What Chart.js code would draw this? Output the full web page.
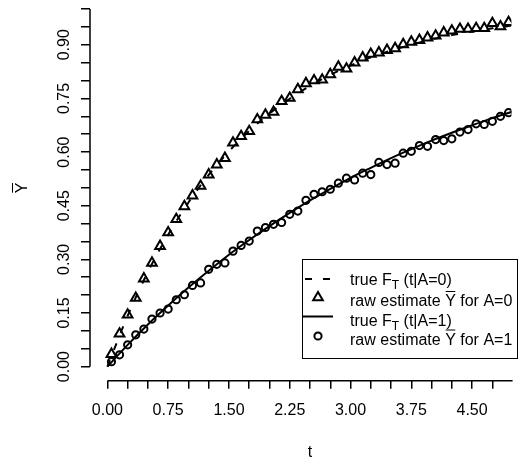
<!DOCTYPE html>
<html>
<head>
<meta charset="utf-8">
<title>Raw estimate vs true F_T</title>
<script src="https://cdn.jsdelivr.net/npm/chart.js@4.4.1/dist/chart.umd.min.js"></script>
<style>
	html, body { margin: 0; padding: 0; background: #fff; overflow: hidden; }
	#chart { display: block; }
</style>
</head>
<body>
<canvas id="chart" width="519" height="462"></canvas>
<script>
// --- data -------------------------------------------------------------------

// true curves, sampled every 0.25
const tTrue  = [0, 0.25, 0.5, 0.75, 1, 1.25, 1.5, 1.75, 2, 2.25, 2.5, 2.75, 3, 3.25, 3.5, 3.75, 4, 4.25, 4.5, 4.75, 5];
const trueA0 = [0, 0.142, 0.265, 0.369, 0.459, 0.536, 0.602, 0.659, 0.708, 0.749, 0.785, 0.816, 0.842, 0.865, 0.884, 0.900, 0.915, 0.927, 0.937, 0.946, 0.954];
const trueA1 = [0, 0.061, 0.118, 0.171, 0.221, 0.268, 0.313, 0.354, 0.393, 0.430, 0.465, 0.497, 0.528, 0.556, 0.583, 0.608, 0.632, 0.654, 0.675, 0.695, 0.713];

// raw estimates at interval midpoints
const tRaw = [0.05, 0.15, 0.25, 0.35, 0.45, 0.55, 0.65, 0.75, 0.85, 0.95,
	1.05, 1.15, 1.25, 1.35, 1.45, 1.55, 1.65, 1.75, 1.85, 1.95,
	2.05, 2.15, 2.25, 2.35, 2.45, 2.55, 2.65, 2.75, 2.85, 2.95,
	3.05, 3.15, 3.25, 3.35, 3.45, 3.55, 3.65, 3.75, 3.85, 3.95,
	4.05, 4.15, 4.25, 4.35, 4.45, 4.55, 4.65, 4.75, 4.85, 4.95];
const rawA0 = [0.035, 0.092, 0.145, 0.192, 0.246, 0.290, 0.337, 0.375, 0.412, 0.448,
	0.478, 0.505, 0.537, 0.565, 0.583, 0.626, 0.644, 0.658, 0.691, 0.704,
	0.712, 0.742, 0.751, 0.775, 0.792, 0.800, 0.802, 0.817, 0.838, 0.833,
	0.850, 0.864, 0.874, 0.878, 0.885, 0.890, 0.901, 0.908, 0.913, 0.920,
	0.925, 0.934, 0.939, 0.944, 0.944, 0.946, 0.946, 0.960, 0.951, 0.963];
const rawA1 = [0.014, 0.033, 0.061, 0.089, 0.105, 0.133, 0.150, 0.161, 0.187, 0.201,
	0.227, 0.234, 0.272, 0.286, 0.290, 0.323, 0.339, 0.351, 0.379, 0.389,
	0.398, 0.403, 0.426, 0.435, 0.465, 0.482, 0.489, 0.496, 0.513, 0.527,
	0.522, 0.541, 0.537, 0.571, 0.565, 0.569, 0.597, 0.602, 0.618, 0.616,
	0.635, 0.632, 0.637, 0.656, 0.663, 0.679, 0.677, 0.686, 0.700, 0.710];

// axis ticks (R drops the labels that would overlap, so only every third is labelled)
const xTicks  = [0, 0.25, 0.5, 0.75, 1, 1.25, 1.5, 1.75, 2, 2.25, 2.5, 2.75, 3, 3.25, 3.5, 3.75, 4, 4.25, 4.5, 4.75];
const xLabels = [0, 0.75, 1.5, 2.25, 3, 3.75, 4.5];
const yTicks  = [0, 0.05, 0.1, 0.15, 0.2, 0.25, 0.3, 0.35, 0.4, 0.45, 0.5, 0.55, 0.6, 0.65, 0.7, 0.75, 0.8, 0.85, 0.9, 0.95, 1];
const yLabels = [0, 0.15, 0.3, 0.45, 0.6, 0.75, 0.9];

const legendRows = [
	{ sym: 'dash',     parts: ['true F', { sub: 'T' }, ' (t|A=0)'] },
	{ sym: 'triangle', parts: ['raw estimate ', { over: 'Y' }, ' for A=0'] },
	{ sym: 'line',     parts: ['true F', { sub: 'T' }, ' (t|A=1)'] },
	{ sym: 'circle',   parts: ['raw estimate ', { over: 'Y' }, ' for A=1'] }
];

// --- helpers ----------------------------------------------------------------

const FONT = '"Liberation Sans", Arial, Helvetica, sans-serif';
const INK  = '#000';
const DASH = [7, 11];

function pts(xs, ys) { return xs.map((x, i) => ({ x: x, y: ys[i] })); }
function setTicks(list) { return scale => { scale.ticks = list.map(v => ({ value: v })); }; }

// draws text made of plain strings, {sub} and {over} pieces, returns end x
function drawRich(ctx, parts, x, base) {
	parts.forEach(p => {
		if (typeof p === 'string') {
			ctx.font = '16px ' + FONT;
			ctx.fillText(p, x, base);
			x += ctx.measureText(p).width;
		} else if (p.sub) {
			ctx.font = '12px ' + FONT;
			ctx.fillText(p.sub, x, base + 4);
			x += ctx.measureText(p.sub).width;
		} else if (p.over) {
			ctx.font = '16px ' + FONT;
			ctx.fillText(p.over, x, base);
			const w = ctx.measureText(p.over).width;
			ctx.beginPath();
			ctx.moveTo(x + 0.5, base - 14.5);
			ctx.lineTo(x + w - 0.5, base - 14.5);
			ctx.stroke();
			x += w;
		}
	});
	return x;
}

// --- R-style axes, labels and legend -----------------------------------------

const rDecor = {
	id: 'rDecor',
	afterDraw(chart) {
		const ctx = chart.ctx;
		const xs = chart.scales.x, ys = chart.scales.y;
		const area = chart.chartArea;
		ctx.save();
		ctx.strokeStyle = INK;
		ctx.fillStyle = INK;

		// axis lines span first to last tick only
		ctx.lineWidth = 1.5;
		ctx.beginPath();
		ctx.moveTo(area.left, ys.getPixelForValue(0));
		ctx.lineTo(area.left, ys.getPixelForValue(1));
		ctx.moveTo(xs.getPixelForValue(0), area.bottom);
		ctx.lineTo(xs.getPixelForValue(5), area.bottom);
		ctx.stroke();

		// y tick labels, rotated like R's las=0
		ctx.font = '16px ' + FONT;
		ctx.textAlign = 'center';
		ctx.textBaseline = 'alphabetic';
		yLabels.forEach(v => {
			ctx.save();
			ctx.translate(area.left - 21, ys.getPixelForValue(v));
			ctx.rotate(-Math.PI / 2);
			ctx.fillText(v.toFixed(2), 0, 0);
			ctx.restore();
		});

		// y title: Y with a bar
		ctx.save();
		ctx.translate(area.left - 63, (ys.getPixelForValue(0) + ys.getPixelForValue(1)) / 2);
		ctx.rotate(-Math.PI / 2);
		ctx.textAlign = 'left';
		ctx.lineWidth = 1;
		const yw = ctx.measureText('Y').width;
		drawRich(ctx, [{ over: 'Y' }], -yw / 2, 0);
		ctx.restore();

		// x title
		ctx.textAlign = 'center';
		ctx.font = '16px ' + FONT;
		ctx.fillText('t', (xs.getPixelForValue(0) + xs.getPixelForValue(5)) / 2, 457);

		// legend
		const box = { left: 302, top: 259, right: 517, bottom: 358 };
		ctx.lineWidth = 1;
		ctx.strokeRect(box.left + 0.5, box.top + 0.5, box.right - box.left, box.bottom - box.top);
		const symX = 318, textX = 350;
		const symY  = [279, 297.5, 316.5, 336];
		const textB = [285, 306, 326, 344.5];
		ctx.textAlign = 'left';
		legendRows.forEach((row, i) => {
			const y = symY[i];
			ctx.lineWidth = 2;
			ctx.setLineDash([]);
			ctx.beginPath();
			if (row.sym === 'dash') {
				ctx.setLineDash(DASH);
				ctx.moveTo(symX - 13, y);
				ctx.lineTo(symX + 15, y);
			} else if (row.sym === 'line') {
				ctx.moveTo(symX - 15, y);
				ctx.lineTo(symX + 15, y);
			} else if (row.sym === 'triangle') {
				const r = 5.6;
				ctx.moveTo(symX, y - r);
				ctx.lineTo(symX + r * 0.866, y + r / 2);
				ctx.lineTo(symX - r * 0.866, y + r / 2);
				ctx.closePath();
			} else {
				ctx.arc(symX, y, 3.6, 0, Math.PI * 2);
			}
			ctx.stroke();
			ctx.setLineDash([]);
			ctx.lineWidth = 1;
			drawRich(ctx, row.parts, textX, textB[i]);
		});

		ctx.restore();
	}
};

// --- chart -------------------------------------------------------------------

const tickFont = { family: FONT, size: 16 };

new Chart(document.getElementById('chart').getContext('2d'), {
	type: 'scatter',
	data: {
		datasets: [
			{ label: 'true F_T (t|A=0)', data: pts(tTrue, trueA0), showLine: true,
			  borderColor: INK, borderWidth: 2, borderDash: DASH, pointRadius: 0,
			  cubicInterpolationMode: 'monotone' },
			{ label: 'raw estimate Y for A=0', data: pts(tRaw, rawA0), showLine: false,
			  pointStyle: 'triangle', pointRadius: 5.6, pointBorderWidth: 2,
			  pointBorderColor: INK, pointBackgroundColor: 'rgba(0,0,0,0)' },
			{ label: 'true F_T (t|A=1)', data: pts(tTrue, trueA1), showLine: true,
			  borderColor: INK, borderWidth: 2, pointRadius: 0,
			  cubicInterpolationMode: 'monotone' },
			{ label: 'raw estimate Y for A=1', data: pts(tRaw, rawA1), showLine: false,
			  pointStyle: 'circle', pointRadius: 3.6, pointBorderWidth: 2,
			  pointBorderColor: INK, pointBackgroundColor: 'rgba(0,0,0,0)' }
		]
	},
	options: {
		responsive: false,
		animation: false,
		events: [],
		layout: { padding: { top: 9, left: 0, right: 0, bottom: 0 } },
		plugins: { legend: { display: false }, tooltip: { enabled: false } },
		scales: {
			x: {
				type: 'linear', min: -0.2145, max: 4.985,
				afterBuildTicks: setTicks(xTicks),
				afterFit: s => { s.height = 81.3; },
				border: { display: false },
				grid: { drawOnChartArea: false, drawTicks: true, tickLength: 8, color: INK, lineWidth: 1.5 },
				ticks: {
					autoSkip: false, maxRotation: 0, minRotation: 0, padding: 12,
					color: INK, font: tickFont,
					callback: v => xLabels.includes(v) ? v.toFixed(2) : ''
				}
			},
			y: {
				type: 'linear', min: -0.0393, max: 1,
				afterBuildTicks: setTicks(yTicks),
				afterFit: s => { s.width = 90; },
				border: { display: false },
				grid: { drawOnChartArea: false, drawTicks: true, tickLength: 9, color: INK, lineWidth: 1.5 },
				ticks: { display: false }
			}
		}
	},
	plugins: [rDecor]
});
</script>
</body>
</html>
